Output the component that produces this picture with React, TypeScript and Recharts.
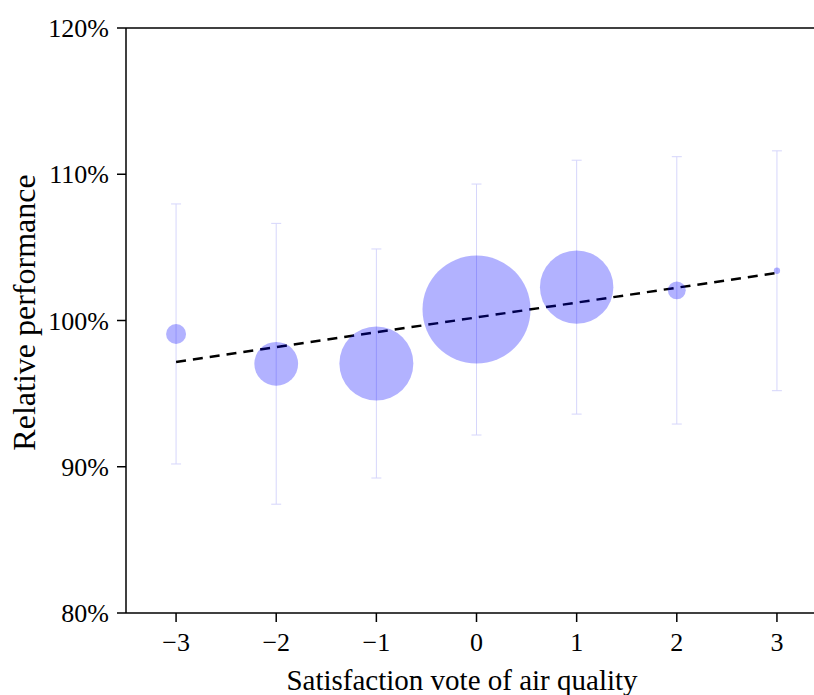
import {
  ScatterChart,
  Scatter,
  XAxis,
  YAxis,
  ZAxis,
  ErrorBar,
  ReferenceLine,
  Label,
} from "recharts";

// satisfaction vote categories
const votes = [-3, -2, -1, 0, 1, 2, 3];
// mean relative performance (%) and its standard deviation per vote
const meanPerf = [99.08, 97.04, 97.06, 100.75, 102.28, 102.06, 103.4];
const sdPerf = [8.89, 9.6, 7.83, 8.58, 8.68, 9.14, 8.2];
// number of responses per vote (bubble area)
const voteCounts = [10, 48, 137, 292, 135, 8, 1];

const yTicks = [80, 90, 100, 110, 120];

// linear fit endpoints
const trendX = [-3, 3];
const trendY = [97.16, 103.26];

const data = votes.map((v, i) => ({
  vote: v,
  perf: meanPerf[i],
  err: sdPerf[i],
  n: voteCounts[i],
}));

const FONT = "'Liberation Serif', 'Times New Roman', serif";
const tickStyle = { fill: "#000", fontSize: 26, fontFamily: FONT };

const fmtVote = (v: number) => (v < 0 ? `\u2212${Math.abs(v)}` : `${v}`);

export default function App() {
  return (
    <div style={{ position: "absolute", left: 0, top: 0, background: "#fff", fontFamily: FONT }}>
      <ScatterChart
        width={814}
        height={695}
        margin={{ top: 28, right: 0, bottom: 0, left: 0 }}
        style={{ fontFamily: FONT }}
      >
        <XAxis
          type="number"
          dataKey="vote"
          domain={[-3.5, 3.37]}
          allowDataOverflow
          ticks={votes}
          tickFormatter={fmtVote}
          tick={tickStyle}
          tickSize={9}
          tickMargin={11}
          height={82}
          stroke="#000"
          strokeWidth={1.5}
        >
          <Label
            value="Satisfaction vote of air quality"
            position="insideBottom"
            offset={5}
            dx={-8}
            fill="#000"
            fontSize={29}
            fontFamily={FONT}
          />
        </XAxis>
        <YAxis
          type="number"
          dataKey="perf"
          domain={[80, 120]}
          allowDataOverflow
          ticks={yTicks}
          tickFormatter={(v) => `${v}%`}
          tick={tickStyle}
          tickSize={9}
          tickMargin={8}
          width={126}
          stroke="#000"
          strokeWidth={1.5}
        >
          <Label
            value="Relative performance"
            angle={-90}
            position="insideLeft"
            offset={24}
            dy={-8}
            fill="#000"
            fontSize={32}
            fontFamily={FONT}
            textAnchor="middle"
          />
        </YAxis>
        <ZAxis type="number" dataKey="n" domain={[0, 292]} range={[0, Math.PI * 54 * 54]} />
        <ReferenceLine y={120} stroke="#000" strokeWidth={1.5} />
        <Scatter
          data={data}
          fill="#0000ff"
          fillOpacity={0.3}
          isAnimationActive={false}
        >
          <ErrorBar
            dataKey="err"
            direction="y"
            width={5}
            stroke="#d6d6fb"
            strokeWidth={1}
          />
        </Scatter>
        <ReferenceLine
          segment={[
            { x: trendX[0], y: trendY[0] },
            { x: trendX[1], y: trendY[1] },
          ]}
          stroke="#000"
          strokeWidth={2.5}
          strokeDasharray="10 7"
        />
      </ScatterChart>
    </div>
  );
}
